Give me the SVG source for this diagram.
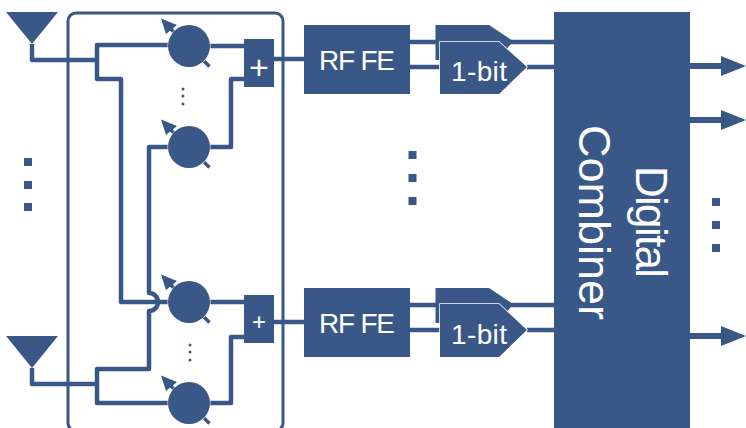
<svg xmlns="http://www.w3.org/2000/svg" width="746" height="428" viewBox="0 0 746 428">
<style>
.w{fill:none;stroke:#395787;stroke-width:4.500;stroke-linejoin:round;stroke-linecap:butt}
.f{fill:#395787}
.t{font-family:"Liberation Sans",Arial,sans-serif;fill:#fff}
</style>
<defs>
<g id="ps">
<path d="M-24,-23L-10,-9M15,15L20.500,20.500" stroke="#395787" stroke-width="3.500" fill="none"/>
<path class="f" d="M-28,-27.500L-12,-21L-23,-12Z"/>
<circle class="f" r="21" stroke="#fff" stroke-width="1" paint-order="stroke"/>
</g>
<path id="arrow" class="f" d="M0,-3H31V-10L56,0L31,10V3H0Z"/>
<path id="ant" class="f" d="M6,0H58L32,32Z"/>
</defs>
<g id="connectors">
<path class="w" d="M32,44V60H99M97,60V45H168M97,60V79H121V302H168"/>
<path class="w" d="M32,368V384H99M97,384V369H149V311A9,9 0 0 0 149,293V147H168"/>
<path class="w" d="M210,46H244M210,147H231V79H244M210,302H244M210,403H231V337H244"/>
<path class="w" d="M97,384V403H168"/>
<path class="w" d="M274,59H304M274,322H304"/>
<path class="w" d="M410,42H436M410,67H440M510,42H555M527,67H555"/>
<path class="w" d="M410,305H436M410,330H440M510,305H555M527,330H555"/>
</g>
<rect id="beamformer-frame" x="68" y="13" width="215" height="418" rx="8" fill="none" stroke="#395787" stroke-width="3"/>
<g id="ant1" transform="translate(0,12)"><use href="#ant"/></g>
<g id="ant2" transform="translate(0,336)"><use href="#ant"/></g>
<g id="ps1" transform="translate(189,46)"><use href="#ps"/></g>
<g id="ps2" transform="translate(189,147)"><use href="#ps"/></g>
<g id="ps3" transform="translate(189,302)"><use href="#ps"/></g>
<g id="ps4" transform="translate(189,403)"><use href="#ps"/></g>
<g id="sum1"><rect class="f" x="244" y="39" width="30" height="48"/><text class="t" x="259" y="78.500" font-size="34" text-anchor="middle">+</text></g>
<g id="sum2"><rect class="f" x="244" y="295" width="30" height="48"/><text class="t" x="259" y="330" font-size="24" text-anchor="middle">+</text></g>
<g id="rffe1"><rect class="f" x="304" y="25" width="106" height="69"/><text class="t" x="319" y="69.500" font-size="28" textLength="76">RF FE</text></g>
<g id="rffe2"><rect class="f" x="304" y="288" width="106" height="69"/><text class="t" x="319" y="332.500" font-size="28" textLength="76">RF FE</text></g>
<g id="adc1-back"><path class="f" d="M435.500,25H489L513,41L506,50H435.500Z"/><path class="f" d="M435.500,50H441V60H435.500Z"/></g>
<g id="adc1"><path class="f" d="M440,42H499L527,67L499,94H440Z" stroke="#fff" stroke-width="1.500" paint-order="stroke"/><text class="t" x="451" y="81" font-size="28" textLength="56">1-bit</text></g>
<g id="adc2-back"><path class="f" d="M435.500,288H489L513,304L506,313H435.500Z"/><path class="f" d="M435.500,313H441V323H435.500Z"/></g>
<g id="adc2"><path class="f" d="M440,304H499L527,330L499,357H440Z" stroke="#fff" stroke-width="1.500" paint-order="stroke"/><text class="t" x="451" y="344" font-size="28" textLength="56">1-bit</text></g>
<g id="combiner"><rect class="f" x="554" y="12" width="136" height="420"/>
<text class="t" transform="translate(636,166) rotate(90)" font-size="44" textLength="112">Digital</text>
<text class="t" transform="translate(579,125) rotate(90)" font-size="45" textLength="195">Combiner</text></g>
<g id="outputs">
<use href="#arrow" transform="translate(690,66)"/>
<use href="#arrow" transform="translate(690,120)"/>
<use href="#arrow" transform="translate(690,336)"/>
</g>
<g id="dots" class="f">
<rect x="24" y="158" width="8" height="8"/><rect x="24" y="181" width="8" height="8"/><rect x="24" y="203" width="8" height="8"/>
<rect x="408.500" y="151" width="8" height="8"/><rect x="408.500" y="174" width="8" height="8"/><rect x="408.500" y="197" width="8" height="8"/>
<rect x="712" y="198" width="8" height="8"/><rect x="712" y="221" width="8" height="8"/><rect x="712" y="244" width="8" height="8"/>
<circle cx="183" cy="89" r="1.500"/><circle cx="183" cy="96" r="1.500"/><circle cx="183" cy="104" r="1.500"/>
<circle cx="190" cy="345" r="1.500"/><circle cx="190" cy="352" r="1.500"/><circle cx="190" cy="360" r="1.500"/>
</g>
</svg>
